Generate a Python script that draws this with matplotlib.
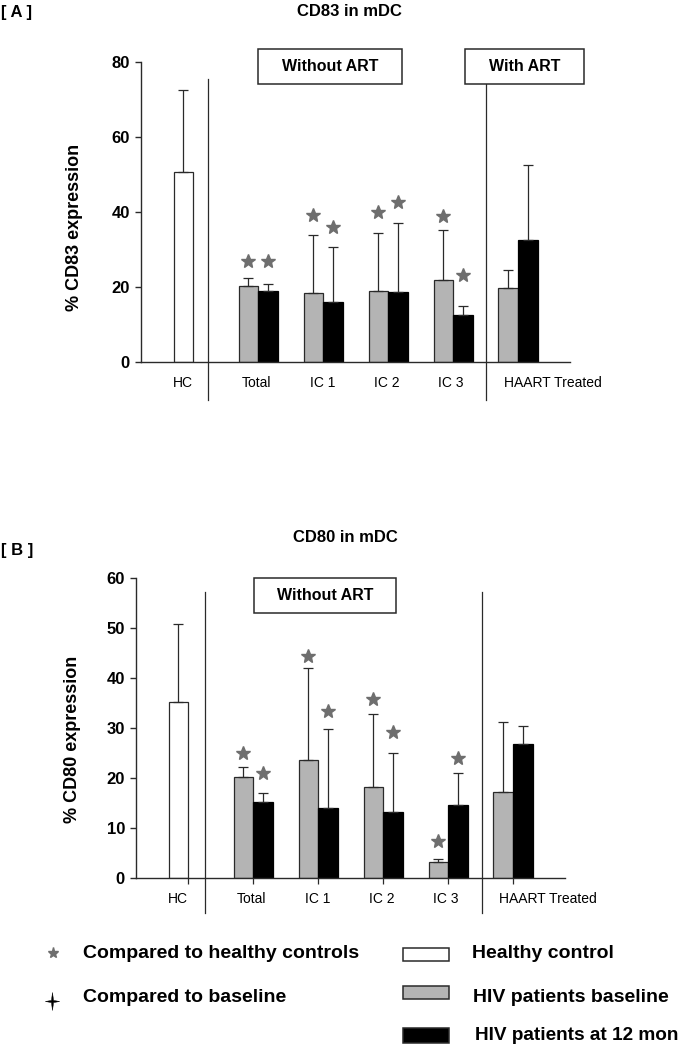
import matplotlib
matplotlib.use("Agg")
import matplotlib.pyplot as plt
from matplotlib.patches import Rectangle
from matplotlib.lines import Line2D
from matplotlib.path import Path
import numpy as np

plt.rcParams['font.family'] = ['Liberation Sans', 'DejaVu Sans']

# ---------------- data ----------------
groups = ["Total", "IC 1", "IC 2", "IC 3", "HAART Treated"]

# Panel A: CD83 in mDC
a_hc_mean, a_hc_err = 50.8, 21.9
a_base_mean = [20.3, 18.3, 19.0, 21.7, 19.7]
a_base_err = [2.1, 15.5, 15.5, 13.5, 4.9]
a_m12_mean = [18.9, 16.0, 18.6, 12.6, 32.5]
a_m12_err = [1.8, 14.6, 18.5, 2.3, 20.1]
a_star_base = [27.0, 39.2, 39.9, 39.0, None]
a_star_m12 = [27.0, 35.9, 42.8, 23.1, None]

# Panel B: CD80 in mDC
b_hc_mean, b_hc_err = 35.1, 15.7
b_base_mean = [20.2, 23.6, 18.3, 3.3, 17.2]
b_base_err = [2.1, 18.4, 14.5, 0.6, 14.0]
b_m12_mean = [15.2, 14.0, 13.2, 14.7, 26.9]
b_m12_err = [1.9, 15.9, 11.9, 6.3, 3.4]
b_star_base = [25.1, 44.3, 35.7, 7.5, None]
b_star_m12 = [21.0, 33.3, 29.2, 24.0, None]

W, H = 685, 1050
fig = plt.figure(figsize=(W / 100, H / 100), dpi=100)

def fx(px):
    return px / W

def fy(py):
    return 1 - py / H

GREY = "#b4b4b4"
STARC = "#6e6e6e"
AXC = "#2a2a2a"
pos = np.arange(1, 6)
hc_pos = 0
bw = 0.3
label_pos = [-0.15, 0.98, 2.0, 2.98, 3.97, 5.54]


def panel(rect, ylim, yticks, ylabel, hc_mean, hc_err, base_mean, base_err,
          m12_mean, m12_err, star_base, star_m12, divs, div_y, boxes, ylab_xy,
          xticks_marks):
    ax = fig.add_axes(rect)
    ax.xaxis.remove_overlapping_locs = False
    ax.set_xlim(-0.80, 5.80)
    ax.set_ylim(*ylim)
    for s in ["top", "right"]:
        ax.spines[s].set_visible(False)
    for s in ["left", "bottom"]:
        ax.spines[s].set_linewidth(1.0)
        ax.spines[s].set_color(AXC)
    ekw = dict(ecolor=AXC, elinewidth=0.9, capsize=3.5, capthick=0.9)
    ax.bar([hc_pos - bw / 2], [hc_mean], bw, color="white", edgecolor=AXC, lw=0.9,
           yerr=[[0], [hc_err]], error_kw=ekw, zorder=2)
    ax.bar(pos - bw / 2, base_mean, bw, color=GREY, edgecolor=AXC, lw=0.9,
           yerr=[np.zeros(5), base_err], error_kw=ekw, zorder=2)
    ax.bar(pos + bw / 2, m12_mean, bw, color="black", edgecolor="black", lw=0.9,
           yerr=[np.zeros(5), m12_err], error_kw=ekw, zorder=2)
    for i in range(5):
        if star_base[i] is not None:
            ax.plot(pos[i] - bw / 2, star_base[i], marker="*", ms=10.5, color=STARC,
                    mec=STARC, clip_on=False)
        if star_m12[i] is not None:
            ax.plot(pos[i] + bw / 2, star_m12[i], marker="*", ms=10.5, color=STARC,
                    mec=STARC, clip_on=False)
    ax.set_yticks(yticks)
    ax.set_yticklabels([str(t) for t in yticks], fontsize=12, fontweight="bold")
    ax.tick_params(axis="y", length=4, width=1, pad=4, color=AXC)
    if xticks_marks:
        ax.set_xticks([hc_pos] + list(pos))
        ax.tick_params(axis="x", which="major", length=4, width=0.9, color=AXC,
                       labelbottom=False)
    else:
        ax.set_xticks([])
    ax.set_xticks(label_pos, minor=True)
    ax.set_xticklabels(["HC"] + groups, minor=True, fontsize=10)
    ax.tick_params(axis="x", which="minor", length=0, pad=10)
    ax.set_ylabel(ylabel, fontsize=13, fontweight="bold")
    ax.yaxis.set_label_coords(*ylab_xy)
    for d in divs:
        ax.plot([d, d], div_y, color=AXC, lw=0.9, clip_on=False, zorder=1)
    for (x0, x1, y0, y1, txt) in boxes:
        ax.add_patch(Rectangle((x0, y0), x1 - x0, y1 - y0, facecolor="white",
                               edgecolor=AXC, lw=1.1, clip_on=False, zorder=3))
        ax.text((x0 + x1) / 2, (y0 + y1) / 2, txt, ha="center", va="center",
                fontsize=11.5, fontweight="bold", zorder=4, clip_on=False)
    return ax


panel([fx(141), fy(361.7), fx(570) - fx(141), fy(62.3) - fy(361.7)],
      (0, 80), [0, 20, 40, 60, 80], "% CD83 expression",
      a_hc_mean, a_hc_err, a_base_mean, a_base_err, a_m12_mean, a_m12_err,
      a_star_base, a_star_m12, [0.228, 4.51], [-10.2, 75.5],
      [(1.0, 3.21, 74.2, 83.5, "Without ART"), (4.18, 6.02, 74.2, 83.5, "With ART")],
      (-0.135, 0.45), False)

panel([fx(136), fy(878.3), fx(565) - fx(136), fy(577.7) - fy(878.3)],
      (0, 60), [0, 10, 20, 30, 40, 50, 60], "% CD80 expression",
      b_hc_mean, b_hc_err, b_base_mean, b_base_err, b_m12_mean, b_m12_err,
      b_star_base, b_star_m12, [0.257, 4.52], [-7.0, 57.2],
      [(1.008, 3.2, 53.0, 59.95, "Without ART")],
      (-0.128, 0.463), True)

# titles / panel letters
fig.text(fx(349), fy(12), "CD83 in mDC", ha="center", va="center", fontsize=12, fontweight="bold")
fig.text(fx(1), fy(12), "[ A ]", ha="left", va="center", fontsize=12, fontweight="bold")
fig.text(fx(345), fy(538), "CD80 in mDC", ha="center", va="center", fontsize=12, fontweight="bold")
fig.text(fx(1), fy(551), "[ B ]", ha="left", va="center", fontsize=12, fontweight="bold")

# legend
fig.add_artist(Line2D([fx(53)], [fy(953)], marker="*", ms=8, color=STARC, mec=STARC,
                      transform=fig.transFigure))
verts = [(0, 1), (0.12, 0.12), (0.8, 0), (0.12, -0.12), (0, -1), (-0.12, -0.12),
         (-0.8, 0), (-0.12, 0.12), (0, 1)]
star4 = Path(verts, [Path.MOVETO] + [Path.LINETO] * 7 + [Path.CLOSEPOLY])
fig.add_artist(Line2D([fx(52)], [fy(1001)], marker=star4, ms=13, color="black", mec="black",
                      mew=0.3, transform=fig.transFigure))
fig.text(fx(83), fy(953), "Compared to healthy controls", ha="left", va="center",
         fontsize=14, fontweight="bold")
fig.text(fx(83), fy(998), "Compared to baseline", ha="left", va="center",
         fontsize=14, fontweight="bold")
for (y0, y1, col) in [(947.5, 961, "white"), (985.5, 999, GREY), (1028, 1043, "black")]:
    fig.add_artist(Rectangle((fx(403), fy(y1)), fx(449) - fx(403), fy(y0) - fy(y1),
                             facecolor=col, edgecolor=AXC, lw=1.1,
                             transform=fig.transFigure))
fig.text(fx(472), fy(953), "Healthy control", ha="left", va="center", fontsize=14, fontweight="bold")
fig.text(fx(473), fy(997), "HIV patients baseline", ha="left", va="center", fontsize=14, fontweight="bold")
fig.text(fx(475), fy(1036), "HIV patients at 12 mon", ha="left", va="center", fontsize=13.7, fontweight="bold")

fig.savefig("out.png", dpi=100)
